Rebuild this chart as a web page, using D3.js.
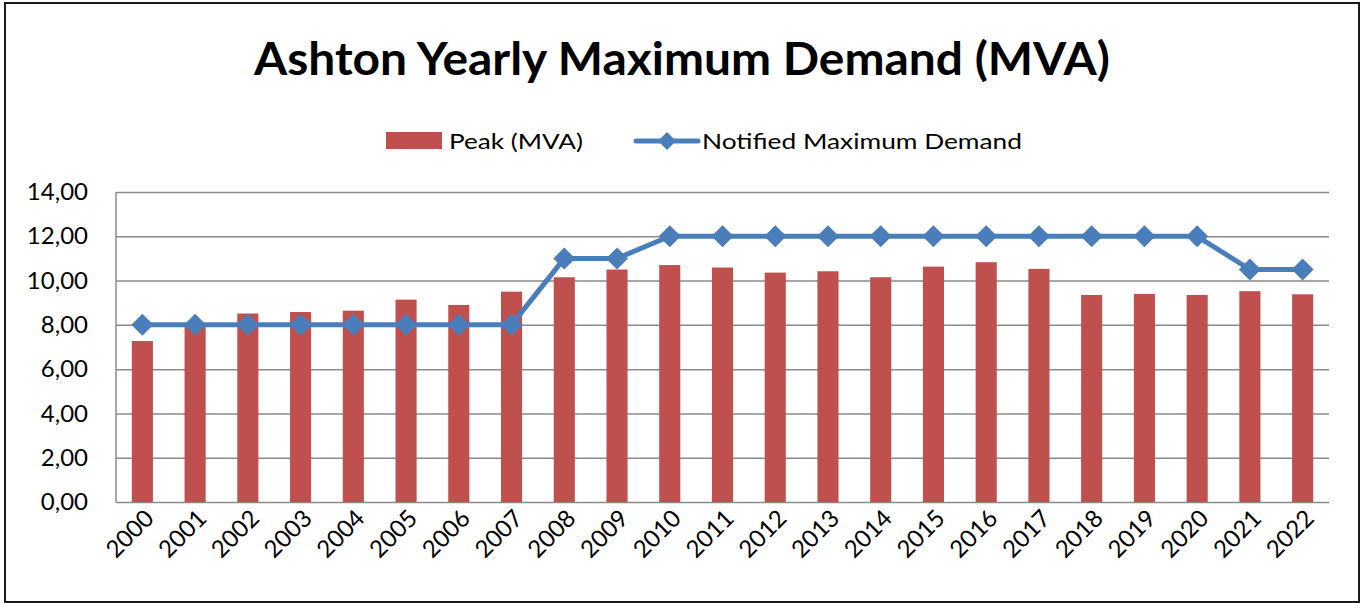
<!DOCTYPE html>
<html>
<head>
<meta charset="utf-8">
<title>Ashton Yearly Maximum Demand</title>
<style>
  body { margin: 0; background: #fff; }
  svg text { font-family: Lato, 'Open Sans', sans-serif; fill: #000; }
</style>
</head>
<body>
<script src="https://cdnjs.cloudflare.com/ajax/libs/d3/7.8.5/d3.min.js"></script>
<script>
const years = ['2000','2001','2002','2003','2004','2005','2006','2007','2008','2009','2010','2011',
               '2012','2013','2014','2015','2016','2017','2018','2019','2020','2021','2022'];
const peak = [7.27, 8.0, 8.51, 8.58, 8.64, 9.14, 8.9, 9.5, 10.15, 10.5, 10.7, 10.59,
              10.36, 10.42, 10.15, 10.63, 10.83, 10.53, 9.35, 9.4, 9.35, 9.52, 9.38];
const notified = [8, 8, 8, 8, 8, 8, 8, 8, 11, 11, 12, 12,
                  12, 12, 12, 12, 12, 12, 12, 12, 12, 10.5, 10.5];
const yTicks = [0, 2, 4, 6, 8, 10, 12, 14];

const W = 1365, H = 603;
const plot = {left: 116, right: 1329, top: 192, bottom: 502};
const barColor = '#C0504D';
const lineColor = '#4A7EBB';

const svg = d3.select('body').append('svg')
    .attr('width', W)
    .attr('height', H);

// outer frame
svg.append('rect')
    .attr('x', 5).attr('y', 3)
    .attr('width', 1354).attr('height', 599)
    .attr('fill', '#fff')
    .attr('stroke', '#1a1a1a')
    .attr('stroke-width', 2);

// title
svg.append('text')
    .attr('x', 682).attr('y', 75)
    .attr('text-anchor', 'middle')
    .attr('font-size', 46)
    .attr('font-weight', 'bold')
    .attr('textLength', 856)
    .attr('lengthAdjust', 'spacingAndGlyphs')
    .text('Ashton Yearly Maximum Demand (MVA)');

const x = d3.scaleBand()
    .domain(years)
    .range([plot.left, plot.right])
    .paddingInner(0.6)
    .paddingOuter(0.3);

const y = d3.scaleLinear()
    .domain([0, 14])
    .range([plot.bottom, plot.top]);

// gridlines + y labels
const yAxis = d3.axisLeft(y)
    .tickValues(yTicks)
    .tickSize(-(plot.right - plot.left))
    .tickPadding(28)
    .tickFormat(d => d3.format('.2f')(d).replace('.', ','));

const yg = svg.append('g')
    .attr('transform', 'translate(' + plot.left + ',0)')
    .call(yAxis);
yg.select('.domain').remove();
yg.selectAll('.tick line')
    .attr('stroke', '#8a8a8a')
    .attr('stroke-width', 1.5);
yg.selectAll('.tick text')
    .attr('font-size', 24)
    .attr('font-family', 'Lato, sans-serif')
    .attr('fill', '#000');

// left axis line
svg.append('line')
    .attr('x1', plot.left).attr('x2', plot.left)
    .attr('y1', plot.top).attr('y2', plot.bottom)
    .attr('stroke', '#8a8a8a')
    .attr('stroke-width', 1.5);

// bars
svg.append('g')
    .selectAll('rect')
    .data(years)
    .enter()
    .append('rect')
    .attr('x', d => x(d))
    .attr('width', x.bandwidth())
    .attr('y', (d, i) => y(peak[i]))
    .attr('height', (d, i) => y(0) - y(peak[i]))
    .attr('fill', barColor);

// x axis labels
const xg = svg.append('g');
xg.selectAll('text')
    .data(years)
    .enter()
    .append('text')
    .attr('transform', d => 'translate(' + (x(d) + x.bandwidth() / 2 + 1) + ',' + (plot.bottom + 6) + ') rotate(-45)')
    .attr('text-anchor', 'end')
    .attr('dy', '0.7em')
    .attr('font-size', 24)
    .text(d => d);

// notified line
const cx = d => x(d) + x.bandwidth() / 2;
const line = d3.line()
    .x(d => cx(d))
    .y((d, i) => y(notified[i]));

svg.append('path')
    .datum(years)
    .attr('d', line)
    .attr('fill', 'none')
    .attr('stroke', lineColor)
    .attr('stroke-width', 5)
    .attr('stroke-linejoin', 'round');

const diamond = (r) => 'M0,' + (-r) + 'L' + r + ',0L0,' + r + 'L' + (-r) + ',0Z';

svg.append('g')
    .selectAll('path')
    .data(years)
    .enter()
    .append('path')
    .attr('transform', (d, i) => 'translate(' + cx(d) + ',' + y(notified[i]) + ')')
    .attr('d', diamond(11))
    .attr('fill', lineColor);

// legend
const legend = svg.append('g');
legend.append('rect')
    .attr('x', 386).attr('y', 132)
    .attr('width', 56).attr('height', 17)
    .attr('fill', barColor);
legend.append('text')
    .attr('x', 449).attr('y', 149)
    .attr('font-size', 22)
    .attr('textLength', 134)
    .attr('lengthAdjust', 'spacingAndGlyphs')
    .text('Peak (MVA)');
legend.append('line')
    .attr('x1', 636).attr('x2', 698)
    .attr('y1', 141).attr('y2', 141)
    .attr('stroke', lineColor)
    .attr('stroke-width', 5)
    .attr('stroke-linecap', 'round');
legend.append('path')
    .attr('transform', 'translate(667,141)')
    .attr('d', diamond(9))
    .attr('fill', lineColor);
legend.append('text')
    .attr('x', 702).attr('y', 149)
    .attr('font-size', 22)
    .attr('textLength', 320)
    .attr('lengthAdjust', 'spacingAndGlyphs')
    .text('Notified Maximum Demand');
</script>
</body>
</html>
